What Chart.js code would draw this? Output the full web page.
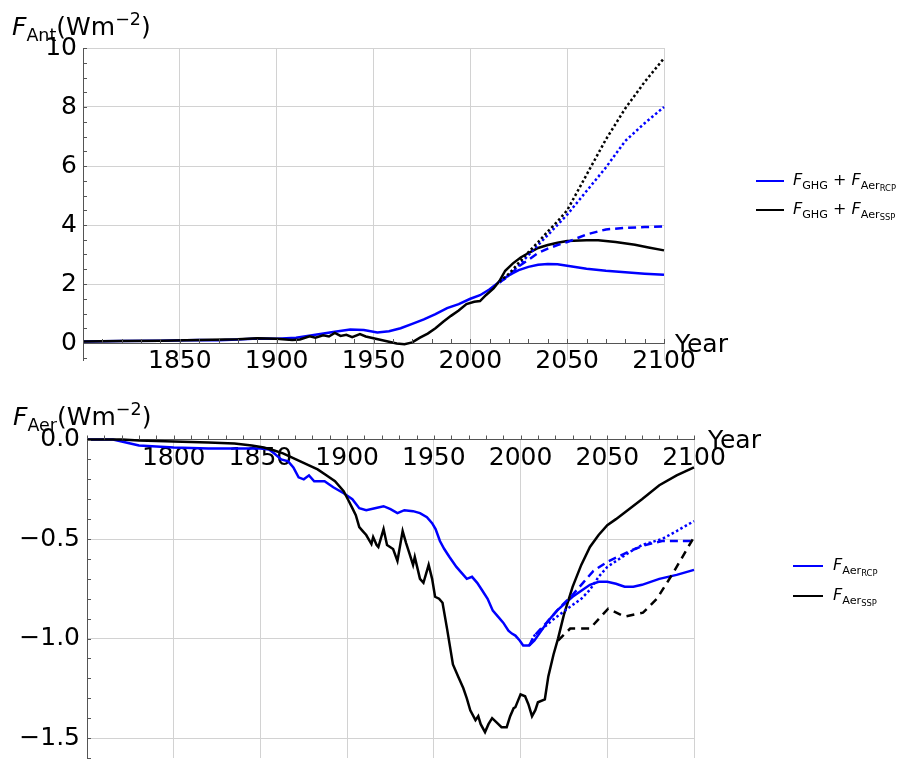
<!DOCTYPE html>
<html>
<head>
<meta charset="utf-8">
<script src="https://cdn.jsdelivr.net/npm/chart.js@4.4.1/dist/chart.umd.min.js"></script>
<style>
  html, body { margin: 0; padding: 0; background: #fff; overflow: hidden; }
  body { width: 905px; height: 760px; position: relative; font-family: 'DejaVu Sans', sans-serif; color: #000; }
  canvas { position: absolute; left: 0; }
  .ttl { position: absolute; font-size: 25px; line-height: 25px; white-space: nowrap; }
  .ttl sub, .leg sub { font-size: 70%; vertical-align: baseline; position: relative; top: 0.32em; }
  .ttl sup { font-size: 70%; vertical-align: baseline; position: relative; top: -0.55em; }
  .leg sub sub { font-size: 75%; top: 0.3em; }
  .leg { position: absolute; font-size: 16px; line-height: 16px; white-space: nowrap; }
  .sw { position: absolute; height: 0; border-top: 2px solid; }
</style>
</head>
<body>
<canvas id="antChart" width="905" height="400" style="top:0"></canvas>
<canvas id="aerChart" width="905" height="400" style="top:380px"></canvas>

<div class="ttl" style="left:12px;top:14px"><i>F</i><sub>Ant</sub>(Wm<sup>−2</sup>)</div>
<div class="ttl" style="left:675px;top:331px">Year</div>
<div class="ttl" style="left:13px;top:404px"><i>F</i><sub>Aer</sub>(Wm<sup>−2</sup>)</div>
<div class="ttl" style="left:708px;top:427px">Year</div>

<div class="sw" style="left:756px;top:180px;width:28px;border-color:#0000ff"></div>
<div class="leg" style="left:793px;top:172px"><i>F</i><sub>GHG</sub> + <i>F</i><sub>Aer<sub>RCP</sub></sub></div>
<div class="sw" style="left:756px;top:209px;width:28px;border-color:#000"></div>
<div class="leg" style="left:793px;top:201px"><i>F</i><sub>GHG</sub> + <i>F</i><sub>Aer<sub>SSP</sub></sub></div>

<div class="sw" style="left:793px;top:565px;width:30px;border-color:#0000ff"></div>
<div class="leg" style="left:833px;top:557px"><i>F</i><sub>Aer<sub>RCP</sub></sub></div>
<div class="sw" style="left:793px;top:595px;width:30px;border-color:#000"></div>
<div class="leg" style="left:833px;top:587px"><i>F</i><sub>Aer<sub>SSP</sub></sub></div>

<script>
// top panel: anthropogenic forcing (W m-2)
const antRcpYears = [1800, 1820, 1840, 1860, 1870, 1880, 1890, 1900, 1910, 1920, 1930, 1938, 1945, 1952, 1958, 1964, 1970, 1976, 1982, 1988, 1994, 2000, 2005, 2010, 2015, 2020, 2025, 2030, 2035, 2040, 2045, 2050, 2060, 2070, 2080, 2090, 2100];
const antRcp = [0.05, 0.07, 0.08, 0.10, 0.09, 0.12, 0.15, 0.14, 0.18, 0.28, 0.38, 0.46, 0.44, 0.36, 0.40, 0.50, 0.65, 0.80, 0.98, 1.18, 1.32, 1.50, 1.62, 1.82, 2.08, 2.30, 2.47, 2.58, 2.65, 2.68, 2.67, 2.62, 2.52, 2.45, 2.40, 2.35, 2.31];

const antSspYears = [1800, 1820, 1840, 1860, 1880, 1890, 1900, 1908, 1912, 1917, 1920, 1924, 1927, 1930, 1933, 1936, 1939, 1943, 1946, 1950, 1954, 1958, 1962, 1966, 1970, 1974, 1978, 1982, 1986, 1990, 1994, 1998, 2002, 2005, 2008, 2012, 2015, 2018, 2022, 2026, 2030, 2035, 2040, 2045, 2050, 2060, 2066, 2075, 2085, 2092, 2100];
const antSsp = [0.05, 0.07, 0.08, 0.10, 0.13, 0.16, 0.14, 0.10, 0.12, 0.23, 0.18, 0.26, 0.22, 0.34, 0.24, 0.28, 0.20, 0.30, 0.22, 0.16, 0.10, 0.04, -0.02, -0.04, 0.02, 0.18, 0.32, 0.50, 0.72, 0.92, 1.10, 1.32, 1.40, 1.42, 1.62, 1.85, 2.10, 2.45, 2.70, 2.90, 3.05, 3.22, 3.32, 3.40, 3.46, 3.48, 3.48, 3.42, 3.33, 3.24, 3.14];

const antProjYears = [2015, 2020, 2025, 2030, 2035, 2040, 2045, 2050, 2060, 2070, 2080, 2090, 2100];
const antRcpDashed = [2.05, 2.28, 2.60, 2.82, 3.05, 3.20, 3.32, 3.42, 3.68, 3.85, 3.90, 3.93, 3.95];
const antRcpDotted = [2.05, 2.30, 2.62, 2.98, 3.32, 3.66, 4.00, 4.35, 5.15, 5.95, 6.85, 7.45, 8.00];
const antSspDotted = [2.08, 2.35, 2.72, 3.08, 3.42, 3.78, 4.12, 4.50, 5.70, 6.90, 7.95, 8.85, 9.65];

// bottom panel: aerosol forcing (W m-2)
const aerRcpYears = [1750, 1765, 1770, 1775, 1780, 1790, 1800, 1820, 1850, 1855, 1858, 1862, 1866, 1869, 1872, 1875, 1878, 1881, 1887, 1892, 1898, 1903, 1907, 1911, 1916, 1921, 1925, 1929, 1933, 1938, 1942, 1946, 1949, 1951, 1953.5, 1956, 1959, 1963, 1966, 1969, 1972, 1975, 1978, 1981, 1984, 1987, 1990, 1993, 1995, 1997, 1999.5, 2001.5, 2005, 2008, 2012, 2016, 2021, 2026, 2030, 2035, 2040, 2045, 2050, 2055, 2060, 2065, 2070, 2080, 2090, 2100];
const aerRcp = [0, 0, -0.01, -0.02, -0.03, -0.035, -0.04, -0.045, -0.045, -0.05, -0.07, -0.10, -0.11, -0.14, -0.19, -0.20, -0.18, -0.21, -0.21, -0.24, -0.27, -0.30, -0.345, -0.355, -0.345, -0.335, -0.35, -0.37, -0.355, -0.36, -0.37, -0.39, -0.42, -0.45, -0.51, -0.55, -0.59, -0.64, -0.67, -0.70, -0.69, -0.72, -0.76, -0.80, -0.86, -0.89, -0.92, -0.96, -0.975, -0.985, -1.01, -1.035, -1.035, -1.01, -0.96, -0.91, -0.86, -0.82, -0.79, -0.76, -0.73, -0.715, -0.715, -0.725, -0.74, -0.74, -0.73, -0.70, -0.68, -0.655];

const aerSspYears = [1750, 1770, 1780, 1800, 1820, 1835, 1845, 1852, 1858, 1863, 1868, 1873, 1878, 1883, 1888, 1893, 1898, 1901, 1903, 1905, 1907, 1909, 1911, 1914, 1915, 1917, 1918, 1920, 1921, 1923, 1926.5, 1929, 1932, 1934, 1936, 1938, 1939, 1942, 1944, 1947, 1949, 1950.7, 1953, 1955, 1957.6, 1961, 1964, 1967, 1969, 1971, 1974, 1975.6, 1977, 1979.5, 1981.5, 1983.6, 1986, 1989, 1992, 1994, 1996, 1997, 2000, 2002.6, 2004.5, 2006.6, 2008.5, 2010, 2014, 2016, 2019, 2021.6, 2025, 2030, 2035, 2040, 2045, 2050, 2055, 2061, 2070, 2080, 2090, 2100];
const aerSsp = [0, 0, -0.005, -0.01, -0.015, -0.02, -0.03, -0.04, -0.055, -0.07, -0.09, -0.11, -0.13, -0.15, -0.18, -0.21, -0.26, -0.31, -0.345, -0.38, -0.44, -0.46, -0.48, -0.525, -0.49, -0.53, -0.54, -0.48, -0.45, -0.53, -0.55, -0.61, -0.46, -0.52, -0.575, -0.63, -0.59, -0.70, -0.72, -0.63, -0.70, -0.79, -0.80, -0.82, -0.95, -1.13, -1.19, -1.25, -1.30, -1.36, -1.41, -1.39, -1.43, -1.47, -1.43, -1.40, -1.42, -1.445, -1.445, -1.39, -1.35, -1.345, -1.28, -1.29, -1.33, -1.39, -1.36, -1.32, -1.305, -1.19, -1.08, -1.00, -0.88, -0.74, -0.63, -0.54, -0.48, -0.43, -0.40, -0.36, -0.30, -0.23, -0.18, -0.14];

const aerRcpDashedYears = [2005, 2008, 2015, 2022, 2030, 2036, 2042, 2050, 2063, 2072, 2081.6, 2100];
const aerRcpDashed = [-1.035, -0.985, -0.92, -0.85, -0.78, -0.72, -0.66, -0.615, -0.56, -0.53, -0.51, -0.51];
const aerRcpDottedYears = [2005, 2008, 2018, 2027, 2035, 2040, 2045, 2050, 2063, 2070, 2081.6, 2090, 2100];
const aerRcpDotted = [-1.035, -0.985, -0.91, -0.85, -0.80, -0.755, -0.69, -0.64, -0.565, -0.53, -0.50, -0.46, -0.41];
const aerSspDashedYears = [2021.6, 2028.6, 2040, 2050.5, 2060, 2070.6, 2078.6, 2088, 2100];
const aerSspDashed = [-1.01, -0.95, -0.95, -0.85, -0.89, -0.87, -0.80, -0.67, -0.49];

const BLUE = '#0000ff';
const BLACK = '#000000';

Chart.defaults.font.family = "'DejaVu Sans', sans-serif";
Chart.defaults.font.size = 25;
Chart.defaults.color = '#000';

function pts(xs, ys) {
    return xs.map((x, i) => ({ x: x, y: ys[i] }));
}

function line(xs, ys, color, dash, width) {
    return {
        data: pts(xs, ys),
        borderColor: color,
        borderWidth: width || 2.5,
        borderDash: dash || [],
        pointRadius: 0,
        fill: false,
        tension: 0,
        clip: false
    };
}

// small inward ticks along both axes, like the original plot
const minorTicks = {
    id: 'minorTicks',
    afterDraw(chart) {
        const o = chart.options.plugins.minorTicks;
        const { ctx, chartArea, scales: { x, y } } = chart;
        const y0 = y.getPixelForValue(0);
        const x0 = chartArea.left;
        ctx.save();
        ctx.strokeStyle = '#555';
        ctx.lineWidth = 1;
        ctx.beginPath();
        const nx = Math.round((x.max - x.min) / o.xStep);
        for (let i = 0; i <= nx; i++) {
            const px = Math.round(x.getPixelForValue(x.min + i * o.xStep)) + 0.5;
            ctx.moveTo(px, y0);
            ctx.lineTo(px, y0 - 4);
        }
        const yStart = Math.ceil(y.min / o.yStep - 1e-9);
        const yEnd = Math.floor(y.max / o.yStep + 1e-9);
        for (let k = yStart; k <= yEnd; k++) {
            const py = Math.round(y.getPixelForValue(k * o.yStep)) + 0.5;
            ctx.moveTo(x0, py);
            ctx.lineTo(x0 + 4, py);
        }
        ctx.stroke();
        ctx.restore();
    }
};

function makeChart(id, datasets, cfg) {
    return new Chart(document.getElementById(id), {
        type: 'line',
        data: { datasets: datasets },
        plugins: [minorTicks],
        options: {
            responsive: false,
            animation: false,
            devicePixelRatio: 1,
            layout: { padding: cfg.padding },
            plugins: {
                legend: { display: false },
                tooltip: { enabled: false },
                minorTicks: { xStep: 10, yStep: cfg.yMinor }
            },
            scales: {
                x: {
                    type: 'linear',
                    min: cfg.xMin,
                    max: 2100,
                    position: { y: 0 },
                    grid: { color: '#d2d2d2', drawTicks: false },
                    border: { color: '#555' },
                    ticks: {
                        stepSize: 50,
                        autoSkip: false,
                        maxRotation: 0,
                        padding: cfg.xPad,
                        callback: v => (v === cfg.xMin ? '' : String(v))
                    }
                },
                y: {
                    type: 'linear',
                    min: cfg.yMin,
                    max: cfg.yMax,
                    afterFit: s => { s.width = cfg.yWidth; },
                    grid: { color: '#d2d2d2', drawTicks: false },
                    border: { color: '#555' },
                    ticks: {
                        stepSize: cfg.yStep,
                        includeBounds: false,
                        padding: cfg.yPad,
                        callback: cfg.yFmt
                    }
                }
            }
        }
    });
}

// top chart
makeChart('antChart', [
    line(antProjYears, antSspDotted, BLACK, [2.5, 2.5]),
    line(antProjYears, antRcpDotted, BLUE, [2.5, 2.5]),
    line(antProjYears, antRcpDashed, BLUE, [8, 5]),
    line(antSspYears, antSsp, BLACK),
    line(antRcpYears, antRcp, BLUE)
], {
    padding: { top: 48, right: 241, bottom: 39.3, left: 0 },
    xMin: 1800, xPad: 3,
    yMin: -0.6, yMax: 10, yStep: 2, yMinor: 0.5,
    yWidth: 83, yPad: 6,
    yFmt: v => String(v)
});

// bottom chart
makeChart('aerChart', [
    line(aerSspDashedYears, aerSspDashed, BLACK, [8, 6]),
    line(aerRcpDottedYears, aerRcpDotted, BLUE, [2.5, 2.5]),
    line(aerRcpDashedYears, aerRcpDashed, BLUE, [8, 5]),
    line(aerSspYears, aerSsp, BLACK),
    line(aerRcpYears, aerRcp, BLUE)
], {
    padding: { top: 59.5, right: 211, bottom: 15.7, left: 0 },
    xMin: 1750, xPad: 4,
    yMin: -1.6, yMax: 0, yStep: 0.5, yMinor: 0.1,
    yWidth: 87, yPad: 7,
    yFmt: v => v.toFixed(1).replace('-', '\u2212')
});
</script>
</body>
</html>
